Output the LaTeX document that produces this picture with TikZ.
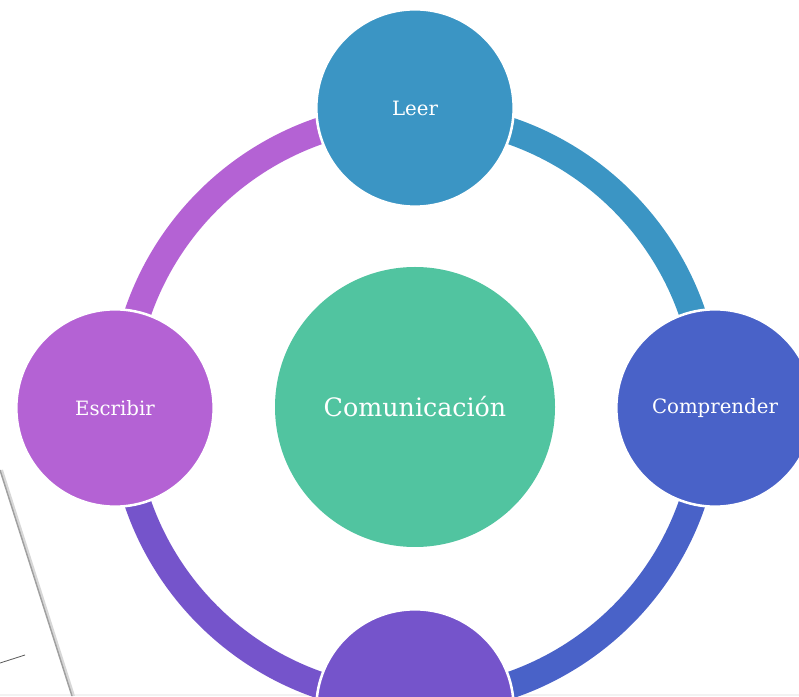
\documentclass[tikz,border=0pt]{standalone}
\usepackage{fontspec}
\newfontfamily\slabfont{DejaVu Serif}
\definecolor{cLeer}{RGB}{59,149,196}
\definecolor{cComp}{RGB}{73,98,200}
\definecolor{cBot}{RGB}{117,84,203}
\definecolor{cEsc}{RGB}{180,98,212}
\definecolor{cCen}{RGB}{81,196,160}
\definecolor{cEdge}{RGB}{160,160,160}
\definecolor{cShade}{RGB}{215,215,215}
\definecolor{cStrip}{RGB}{242,242,242}
\tikzset{
  outer/.style={circle, fill=#1, draw=white, line width=1.9pt, inner sep=0pt,
    minimum size=148pt, text=white, font=\slabfont\fontsize{14.8}{16}\selectfont},
  hub/.style={circle, fill=cCen, inner sep=0pt, minimum size=210pt,
    text=white, font=\slabfont\fontsize{19}{21}\selectfont},
  ringarc/.style={draw=#1, line width=20pt},
  guide/.style={circle, inner sep=0pt, outer sep=0pt, minimum size=439.5pt},
  pageedge/.style={draw=cEdge, line width=1.1pt},
  pageshade/.style={draw=cShade, line width=2.2pt},
  stroke/.style={draw=black!65, line width=0.6pt}
}
\begin{document}
\begin{tikzpicture}[x=0.75pt,y=0.75pt]
\useasboundingbox (0,0) rectangle (799,696);
\clip (0,0) rectangle (799,696);
\fill[white] (0,0) rectangle (799,696);
\fill[cStrip] (0,0) rectangle (799,2);
% page edge in the lower left
\coordinate (e1) at (0,226);
\coordinate (e2) at (72,0);
\coordinate (s1) at (1.5,226);
\coordinate (s2) at (73.5,0);
\coordinate (t1) at (0,33);
\coordinate (t2) at (25,41);
\draw[pageshade] (s1) -- (s2);
\draw[pageedge] (e1) -- (e2);
\draw[stroke] (t1) -- (t2);
% ring
\node[guide] (ring) at (415,288) {};
\draw[ringarc=cLeer] (ring.north) arc[start angle=90, end angle=0, radius=293];
\draw[ringarc=cComp] (ring.east) arc[start angle=0, end angle=-90, radius=293];
\draw[ringarc=cBot] (ring.south) arc[start angle=-90, end angle=-180, radius=293];
\draw[ringarc=cEsc] (ring.west) arc[start angle=180, end angle=90, radius=293];
% nodes
\node[hub] (com) at (415,289) {Comunicación};
\node[outer=cLeer] (leer) at (415,588) {Leer};
\node[outer=cComp] (comp) at (715,288) {Comprender};
\node[outer=cBot] (bot) at (415,-12) {};
\node[outer=cEsc] (esc) at (115,288) {Escribir};
\end{tikzpicture}
\end{document}
